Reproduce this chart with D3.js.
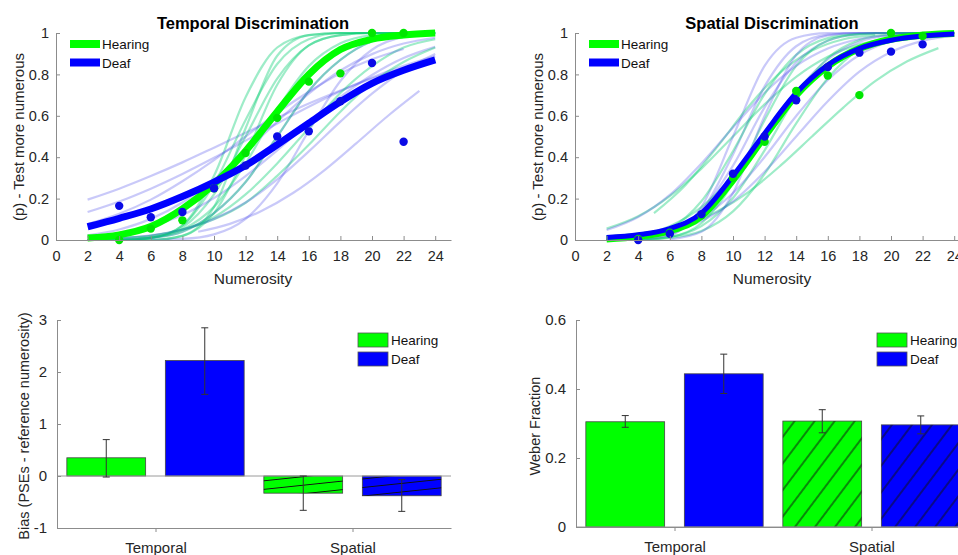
<!DOCTYPE html>
<html>
<head>
<meta charset="utf-8">
<script src="https://cdn.jsdelivr.net/npm/d3@7"></script>
<style>
  body { margin: 0; background: #fff; }
  svg { font-family: "Liberation Sans", Arial, sans-serif; }
  .axis path, .axis line { stroke: #8c8c8c; }
  .axis text { fill: #262626; font-size: 14.5px; font-family: "Liberation Sans", Arial, sans-serif; }
</style>
</head>
<body>
<svg id="fig" width="958" height="555"></svg>
<script>
// ---- data ----
const numerosity = [2, 4, 6, 8, 10, 12, 14, 16, 18, 20, 22, 24];
const dotNumerosity = [4, 6, 8, 10, 12, 14, 16, 18, 20, 22];
const xTicks = [0, 2, 4, 6, 8, 10, 12, 14, 16, 18, 20, 22, 24];
const pTicks = [0, 0.2, 0.4, 0.6, 0.8, 1];

// group mean psychometric curves (p at each numerosity)
const temporalHearingMean = [0.01, 0.025, 0.065, 0.15, 0.27, 0.43, 0.62, 0.80, 0.92, 0.97, 0.99, 1.0];
const temporalDeafMean = [0.064, 0.105, 0.15, 0.21, 0.28, 0.36, 0.46, 0.565, 0.668, 0.757, 0.82, 0.87];
const spatialHearingMean = [0.005, 0.018, 0.045, 0.115, 0.29, 0.50, 0.70, 0.84, 0.925, 0.97, 0.99, 0.998];
const spatialDeafMean = [0.012, 0.025, 0.055, 0.13, 0.31, 0.515, 0.71, 0.845, 0.925, 0.965, 0.985, 0.995];

// group mean proportions (dots)
const temporalHearingDots = [0.0, 0.055, 0.095, 0.25, 0.42, 0.59, 0.765, 0.805, 1.0, 1.0];
const temporalDeafDots = [0.165, 0.11, 0.135, 0.25, 0.36, 0.50, 0.525, 0.67, 0.855, 0.475];
const spatialHearingDots = [0.005, 0.035, 0.12, 0.30, 0.475, 0.72, 0.795, 0.70, 1.0, 0.985];
const spatialDeafDots = [0.0, 0.03, 0.125, 0.32, 0.50, 0.675, 0.835, 0.905, 0.91, 0.945];

// individual subject curves: [first numerosity, p every 2 steps]
const temporalHearingSubjects = [
  [2, [0, 0, 0.01, 0.07, 0.31, 0.69, 0.93, 0.99, 1, 1, 1, 1]],
  [2, [0, 0, 0.01, 0.07, 0.27, 0.58, 0.85, 0.97, 1, 1, 1, 1]],
  [2, [0, 0, 0.01, 0.06, 0.22, 0.5, 0.78, 0.94, 0.99, 1, 1, 1]],
  [4, [0, 0, 0.02, 0.13, 0.41, 0.75, 0.94, 0.99, 1, 1, 1]],
  [2, [0, 0, 0.01, 0.05, 0.16, 0.37, 0.63, 0.84, 0.95, 0.99, 1, 1]],
  [2, [0, 0, 0.01, 0.04, 0.13, 0.28, 0.5, 0.72, 0.87, 0.96, 0.99, 1]],
  [2, [0, 0.01, 0.02, 0.05, 0.11, 0.22, 0.37, 0.54, 0.71, 0.84, 0.93, 0.97]],
  [4, [0.01, 0.02, 0.05, 0.1, 0.18, 0.31, 0.46, 0.62, 0.76, 0.86, 0.93]],
  [4, [0, 0, 0.02, 0.16, 0.54, 0.89, 0.99, 1, 1, 1, 1]]
];
const temporalDeafSubjects = [
  [2, [0.195, 0.248, 0.309, 0.375, 0.446, 0.518, 0.59, 0.659, 0.722, 0.78, 0.83, 0.872]],
  [2, [0.135, 0.186, 0.248, 0.319, 0.397, 0.48, 0.563, 0.644, 0.719, 0.785, 0.841, 0.887]],
  [9, [0.04, 0.078, 0.14, 0.227, 0.338, 0.467, 0.599, 0.72]],
  [2, [0.015, 0.034, 0.067, 0.121, 0.203, 0.309, 0.433, 0.567, 0.691, 0.797, 0.879, 0.933]],
  [4, [0, 0.01, 0.04, 0.13, 0.28, 0.5, 0.72, 0.87, 0.96, 0.99, 1]],
  [6, [0.001, 0.005, 0.027, 0.102, 0.274, 0.527, 0.768, 0.919, 0.981, 0.997]],
  [2, [0.023, 0.051, 0.102, 0.181, 0.293, 0.428, 0.572, 0.707, 0.819, 0.898, 0.949, 0.977]],
  [4, [0.009, 0.023, 0.051, 0.102, 0.181, 0.293, 0.428, 0.572, 0.707, 0.819, 0.898]],
  [2, [0.077, 0.127, 0.195, 0.284, 0.386, 0.5, 0.614, 0.716, 0.805, 0.873, 0.923]]
];
const spatialHearingSubjects = [
  [2, [0.055, 0.115, 0.212, 0.345, 0.5, 0.655, 0.788, 0.885, 0.945, 0.977, 0.992, 0.997]],
  [5, [0.13, 0.266, 0.45, 0.646, 0.809, 0.915, 0.97, 0.991]],
  [3, [0.015, 0.034, 0.073, 0.138, 0.233, 0.359, 0.5, 0.641, 0.767, 0.862, 0.927]],
  [2, [0, 0.001, 0.014, 0.081, 0.274, 0.579, 0.841, 0.964, 0.995, 1, 1, 1]],
  [2, [0, 0.002, 0.015, 0.067, 0.203, 0.433, 0.691, 0.879, 0.966, 0.994, 1, 1]],
  [2, [0, 0.001, 0.01, 0.043, 0.138, 0.319, 0.563, 0.782, 0.921, 0.979, 0.996, 1]],
  [2, [0.001, 0.01, 0.054, 0.187, 0.429, 0.705, 0.894, 0.975, 0.996, 1, 1, 1]],
  [2, [0.006, 0.023, 0.067, 0.159, 0.309, 0.5, 0.691, 0.841, 0.933, 0.977, 0.994, 0.999]]
];
const spatialDeafSubjects = [
  [4, [0.001, 0.023, 0.159, 0.5, 0.841, 0.977, 0.999, 1, 1, 1, 1]],
  [4, [0.002, 0.025, 0.138, 0.413, 0.742, 0.936, 0.992, 1, 1, 1, 1]],
  [2, [0.001, 0.006, 0.037, 0.142, 0.359, 0.641, 0.858, 0.963, 0.994, 1, 1, 1]],
  [2, [0.002, 0.011, 0.043, 0.127, 0.284, 0.5, 0.716, 0.873, 0.957, 0.989, 0.998, 1]],
  [2, [0.003, 0.012, 0.04, 0.106, 0.227, 0.401, 0.599, 0.773, 0.894, 0.96, 0.988, 0.997]],
  [2, [0.048, 0.111, 0.218, 0.37, 0.544, 0.711, 0.841, 0.925, 0.971, 0.99, 0.997, 1]],
  [4, [0.013, 0.038, 0.092, 0.187, 0.33, 0.5, 0.67, 0.813, 0.908, 0.962, 0.987]],
  [6, [0.003, 0.04, 0.227, 0.599, 0.894, 0.988, 1, 1, 1, 1]]
];

// bar charts
const conditions = ["Temporal", "Spatial"];
const groups = ["Hearing", "Deaf"];
const biasHearing = [0.35, -0.33];
const biasHearingCI = [[-0.02, 0.70], [-0.66, 0.0]];
const biasDeaf = [2.22, -0.38];
const biasDeafCI = [[1.57, 2.85], [-0.68, -0.07]];
const biasTicks = [-1, 0, 1, 2, 3];
const weberHearing = [0.305, 0.307];
const weberHearingCI = [[0.289, 0.323], [0.273, 0.34]];
const weberDeaf = [0.444, 0.296];
const weberDeafCI = [[0.387, 0.501], [0.27, 0.322]];
const weberTicks = [0, 0.2, 0.4, 0.6];

// ---- style ----
const green = "#00ff00", blue = "#0000ff";
const greenDot = "#00e600", blueDot = "#0a0ae6";
const greenThin = "rgb(0,205,110)", blueThin = "rgb(60,60,235)";

const svg = d3.select("#fig");
const defs = svg.append("defs");

// hatch for the spatial bars
function hatch(id, spacing, angle) {
  const p = defs.append("pattern")
    .attr("id", id)
    .attr("patternUnits", "userSpaceOnUse")
    .attr("width", 40).attr("height", spacing)
    .attr("patternTransform", "rotate(" + angle + ")");
  p.append("line")
    .attr("x1", 0).attr("x2", 40)
    .attr("y1", spacing / 2).attr("y2", spacing / 2)
    .attr("stroke", "#111").attr("stroke-width", 1);
}
hatch("hatchBias", 8.5, -6);
hatch("hatchWeber", 16, -53);

// ---- psychometric panels ----
function curvePanel(o) {
  const x = d3.scaleLinear().domain([0, 25]).range([o.left, o.left + 25 * 15.8]);
  const y = d3.scaleLinear().domain([0, 1]).range([240, 33]);
  const g = svg.append("g");

  const line = d3.line()
    .x(d => x(d[0]))
    .y(d => y(d[1]))
    .curve(d3.curveMonotoneX);
  const subjPts = s => s[1].map((v, i) => [s[0] + 2 * i, v]);
  const meanPts = arr => arr.map((v, i) => [numerosity[i], v]);

  // individual fits (interleave the two groups)
  const n = Math.max(o.hearingSubj.length, o.deafSubj.length);
  for (let i = 0; i < n; i++) {
    if (o.hearingSubj[i]) {
      g.append("path").attr("d", line(subjPts(o.hearingSubj[i])))
        .attr("fill", "none").attr("stroke", greenThin)
        .attr("stroke-width", 2.2).attr("stroke-opacity", 0.38);
    }
    if (o.deafSubj[i]) {
      g.append("path").attr("d", line(subjPts(o.deafSubj[i])))
        .attr("fill", "none").attr("stroke", blueThin)
        .attr("stroke-width", 2.2).attr("stroke-opacity", 0.28);
    }
  }

  // group fits
  g.append("path").attr("d", line(meanPts(o.hearingMean)))
    .attr("fill", "none").attr("stroke", green).attr("stroke-width", 7);
  g.append("path").attr("d", line(meanPts(o.deafMean)))
    .attr("fill", "none").attr("stroke", blue).attr("stroke-width", o.deafWidth);

  // data points
  g.selectAll(".hd").data(o.hearingDots).enter().append("circle")
    .attr("cx", (d, i) => x(dotNumerosity[i])).attr("cy", d => y(d))
    .attr("r", 4.2).attr("fill", greenDot);
  g.selectAll(".dd").data(o.deafDots).enter().append("circle")
    .attr("cx", (d, i) => x(dotNumerosity[i])).attr("cy", d => y(d))
    .attr("r", 4.2).attr("fill", blueDot);

  // axes
  g.append("g").attr("class", "axis")
    .attr("transform", "translate(0," + y(0) + ")")
    .call(d3.axisBottom(x).tickValues(xTicks).tickSizeInner(-4).tickSizeOuter(0).tickPadding(11));
  g.append("g").attr("class", "axis")
    .attr("transform", "translate(" + x(0) + ",0)")
    .call(d3.axisLeft(y).tickValues(pTicks).tickFormat(d => String(d))
      .tickSizeInner(-4).tickSizeOuter(0).tickPadding(7));

  // title and labels
  g.append("text").attr("x", o.titleX).attr("y", 29)
    .attr("text-anchor", "middle").attr("font-weight", "bold")
    .attr("font-size", 16.5).text(o.title);
  g.append("text").attr("x", o.titleX).attr("y", 284)
    .attr("text-anchor", "middle").attr("font-size", 15.5).attr("fill", "#262626")
    .text("Numerosity");
  g.append("text")
    .attr("transform", "translate(" + (o.left - 32) + ",137) rotate(-90)")
    .attr("text-anchor", "middle").attr("font-size", 15).attr("fill", "#262626")
    .text("(p) - Test more numerous");

  // legend
  const lx = o.left + 14;
  [[groups[0], green, 44], [groups[1], blue, 62.5]].forEach(([name, col, ly]) => {
    g.append("line").attr("x1", lx).attr("x2", lx + 30).attr("y1", ly).attr("y2", ly)
      .attr("stroke", col).attr("stroke-width", 8);
    g.append("text").attr("x", lx + 32).attr("y", ly + 5)
      .attr("font-size", 13.5).attr("fill", "#111").text(name);
  });
}

curvePanel({
  left: 56, title: "Temporal Discrimination", titleX: 253,
  hearingMean: temporalHearingMean, deafMean: temporalDeafMean,
  hearingDots: temporalHearingDots, deafDots: temporalDeafDots,
  hearingSubj: temporalHearingSubjects, deafSubj: temporalDeafSubjects,
  deafWidth: 7
});
curvePanel({
  left: 575, title: "Spatial Discrimination", titleX: 772,
  hearingMean: spatialHearingMean, deafMean: spatialDeafMean,
  hearingDots: spatialHearingDots, deafDots: spatialDeafDots,
  hearingSubj: spatialHearingSubjects, deafSubj: spatialDeafSubjects,
  deafWidth: 5
});

// ---- bar panels ----
function barPanel(o) {
  const x = d3.scaleLinear().domain([0.5, 2.5]).range([o.left, o.left + 394]);
  const y = d3.scaleLinear().domain(o.domain).range([o.bottom, 320]);
  const g = svg.append("g");
  const bw = x(0.4) - x(0);

  const series = [
    { name: groups[0], vals: o.hearing, ci: o.hearingCI, col: green, off: -0.25 },
    { name: groups[1], vals: o.deaf, ci: o.deafCI, col: blue, off: 0.25 }
  ];

  series.forEach(s => {
    s.vals.forEach((v, i) => {
      const bx = x(i + 1 + s.off) - bw / 2;
      const y0 = y(Math.max(0, v)), h = Math.abs(y(v) - y(0));
      g.append("rect").attr("x", bx).attr("y", y0).attr("width", bw).attr("height", h)
        .attr("fill", s.col).attr("stroke", "#444").attr("stroke-width", 0.8);
      if (conditions[i] === "Spatial") {
        g.append("rect").attr("x", bx).attr("y", y0).attr("width", bw).attr("height", h)
          .attr("fill", "url(#" + o.hatch + ")");
      }
    });
  });

  // baseline at zero
  g.append("line").attr("x1", x(0.5)).attr("x2", x(2.5))
    .attr("y1", y(0)).attr("y2", y(0)).attr("stroke", "#9a9a9a");

  // error bars
  series.forEach(s => {
    s.ci.forEach((c, i) => {
      const cx = x(i + 1 + s.off);
      g.append("line").attr("x1", cx).attr("x2", cx).attr("y1", y(c[0])).attr("y2", y(c[1]))
        .attr("stroke", "#333").attr("stroke-width", 1);
      c.forEach(e => {
        g.append("line").attr("x1", cx - 3.5).attr("x2", cx + 3.5).attr("y1", y(e)).attr("y2", y(e))
          .attr("stroke", "#333").attr("stroke-width", 1);
      });
    });
  });

  // axes
  g.append("g").attr("class", "axis")
    .attr("transform", "translate(0," + y(o.domain[0]) + ")")
    .call(d3.axisBottom(x).tickValues([1, 2]).tickFormat((d, i) => conditions[i])
      .tickSizeInner(4).tickSizeOuter(0).tickPadding(10))
    .selectAll("text").style("font-size", "15px");
  g.append("g").attr("class", "axis")
    .attr("transform", "translate(" + x(0.5) + ",0)")
    .call(d3.axisLeft(y).tickValues(o.ticks).tickFormat(d => String(d))
      .tickSizeInner(-4).tickSizeOuter(0).tickPadding(10))
    .selectAll("text").style("font-size", "15px");

  g.append("text")
    .attr("transform", "translate(" + o.labelX + ",426) rotate(-90)")
    .attr("text-anchor", "middle").attr("font-size", 14.5).attr("fill", "#262626")
    .text(o.label);

  // legend
  const lx = o.left + 301;
  [[groups[0], green, 333], [groups[1], blue, 352]].forEach(([name, col, ly]) => {
    g.append("rect").attr("x", lx).attr("y", ly).attr("width", 30).attr("height", 14)
      .attr("fill", col).attr("stroke", "#555").attr("stroke-width", 0.8);
    g.append("text").attr("x", lx + 33).attr("y", ly + 12)
      .attr("font-size", 13.5).attr("fill", "#111").text(name);
  });
}

barPanel({
  left: 57, bottom: 528, domain: [-1, 3], ticks: biasTicks,
  hearing: biasHearing, hearingCI: biasHearingCI,
  deaf: biasDeaf, deafCI: biasDeafCI,
  hatch: "hatchBias", label: "Bias (PSEs - reference numerosity)", labelX: 29
});
barPanel({
  left: 576, bottom: 527, domain: [0, 0.6], ticks: weberTicks,
  hearing: weberHearing, hearingCI: weberHearingCI,
  deaf: weberDeaf, deafCI: weberDeafCI,
  hatch: "hatchWeber", label: "Weber Fraction", labelX: 540
});
</script>
</body>
</html>
